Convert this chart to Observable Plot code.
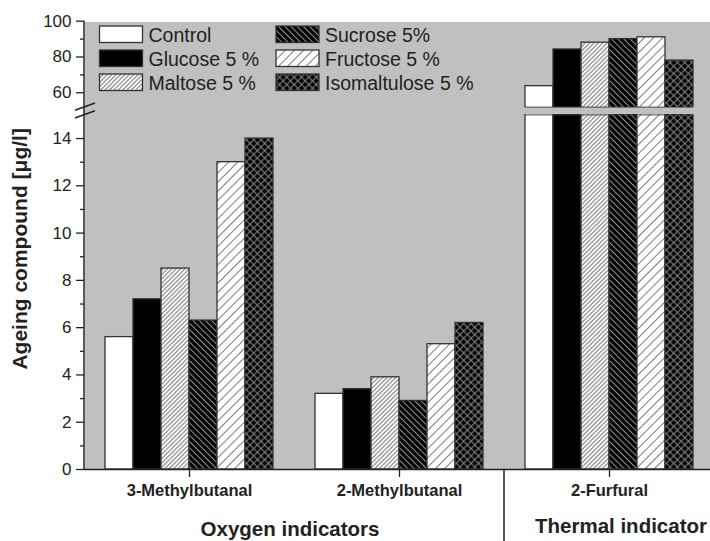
<!DOCTYPE html>
<html>
<head>
<meta charset="utf-8">
<script src="https://cdn.jsdelivr.net/npm/d3@7"></script>
<script src="https://cdn.jsdelivr.net/npm/@observablehq/plot@0.6"></script>
<style>
  html, body { margin: 0; padding: 0; background: #fff; }
  #chart svg { display: block; }
</style>
</head>
<body>
<div id="chart"></div>
<script>
// ---- data ----
const compounds = ["3-Methylbutanal", "2-Methylbutanal", "2-Furfural"];
const series = ["Control", "Glucose 5 %", "Maltose 5 %", "Sucrose 5%", "Fructose 5 %", "Isomaltulose 5 %"];
const methylbutanal3 = [5.6, 7.2, 8.5, 6.3, 13.0, 14.0];
const methylbutanal2 = [3.2, 3.4, 3.9, 2.9, 5.3, 6.2];
const furfural = [63.7, 84.2, 88.0, 90.0, 91.0, 78.0];
const groupLabels = ["Oxygen indicators", "Thermal indicator"];
const yLabel = "Ageing compound [\u03bcg/l]";
const yTicksMajor = [0, 2, 4, 6, 8, 10, 12, 14, 60, 80, 100];
const yTicksMinor = [1, 3, 5, 7, 9, 11, 13, 70, 90];
const yBreak = [15, 52];
const yTop = 100;

const valuesByCompound = [methylbutanal3, methylbutanal2, furfural];
const data = compounds.flatMap((c, i) => series.map((s, j) => ({compound: c, series: s, value: valuesByCompound[i][j]})));
const fills = ["white", "black", "url(#p-maltose)", "url(#p-sucrose)", "url(#p-fructose)", "url(#p-iso)"];

// broken-axis transform: lower segment at full scale, a small gap, compressed upper segment
const gapUnits = 0.33;      // height of the break, in lower-segment units
const upperScale = 0.0757;  // compression of the upper segment
const broken = v => v <= yBreak[0] ? v
  : v >= yBreak[1] ? yBreak[0] + gapUnits + (v - yBreak[1]) * upperScale
  : yBreak[0] + (v - yBreak[0]) / (yBreak[1] - yBreak[0]) * gapUnits;
const tickLabel = new Map(yTicksMajor.map(v => [broken(v), String(v)]));

const font = "'Liberation Sans', Arial, Helvetica, sans-serif";
const bg = "#c0c0c0";
const ink = "#222";

const chart = Plot.plot({
  width: 710,
  height: 541,
  marginTop: 21,
  marginRight: 0,
  marginBottom: 72,
  marginLeft: 84,
  style: {fontFamily: font, fontSize: "17px", color: ink, background: "white", overflow: "hidden"},
  fx: {domain: compounds, range: [84, 714], padding: 0, axis: null, label: null},
  x: {domain: series, paddingInner: 0, paddingOuter: 0.727, axis: null},
  y: {transform: broken, domain: [0, broken(yTop)], range: [469, 20.7], axis: null},
  color: {domain: series, range: fills},
  marks: [
    Plot.frame({fill: bg, shapeRendering: "crispEdges"}),
    Plot.barY(data, {fx: "compound", x: "series", y: "value", fill: "series", stroke: "#333", strokeWidth: 1.3}),
    Plot.rect([yBreak], {y1: d => d[0], y2: d => d[1], fill: bg, shapeRendering: "crispEdges"}),
    Plot.tickY(data.filter(d => d.value > yBreak[1]), {fx: "compound", x: "series", y: () => yBreak[0], stroke: "#444", strokeWidth: 1}),
    Plot.tickY(data.filter(d => d.value > yBreak[1]), {fx: "compound", x: "series", y: () => yBreak[1], stroke: "#444", strokeWidth: 1}),
    Plot.ruleY([0], {stroke: ink, strokeWidth: 1.6}),
    Plot.axisY({ticks: yTicksMajor.map(broken), tickFormat: d => tickLabel.get(d), tickSize: 8, tickPadding: 5, fontSize: 17, label: null, stroke: ink, strokeWidth: 1.3}),
    Plot.axisY({ticks: yTicksMinor.map(broken), tickSize: 4, tickFormat: () => "", label: null, stroke: ink, strokeWidth: 1.3}),
    Plot.axisFx({anchor: "bottom", tickSize: 8, tickPadding: 7, fontSize: 16.5, fontWeight: "bold", label: null, stroke: ink, strokeWidth: 1.3})
  ]
});

document.getElementById("chart").appendChild(chart);

const svg = d3.select(chart);
const fx = chart.scale("fx");
const yScale = chart.scale("y");
const yPx = v => yScale.apply(broken(v));
const x0 = fx.apply(compounds[0]);
const xSep = fx.apply(compounds[2]);

// make sure the y tick labels use the reference size
svg.selectAll("g[aria-label='y-axis tick label'] text").style("font-size", "17px");
svg.selectAll("g[aria-label='y-axis tick label']").style("font-size", "17px");

// patterns
const defs = svg.insert("defs", ":first-child");
function hatch(id, size, bgc, lineColor, angle, cross) {
  const p = defs.append("pattern").attr("id", id).attr("patternUnits", "userSpaceOnUse")
    .attr("width", size).attr("height", size).attr("patternTransform", `rotate(${angle})`);
  p.append("rect").attr("width", size).attr("height", size).attr("fill", bgc);
  p.append("line").attr("x1", size / 2).attr("y1", 0).attr("x2", size / 2).attr("y2", size)
    .attr("stroke", lineColor).attr("stroke-width", 1);
  if (cross) p.append("line").attr("x1", 0).attr("y1", size / 2).attr("x2", size).attr("y2", size / 2)
    .attr("stroke", lineColor).attr("stroke-width", 1);
}
hatch("p-maltose", 3.1, "white", "#707070", 45, false);
hatch("p-sucrose", 4.4, "black", "#9a9a9a", -45, false);
hatch("p-fructose", 6.5, "white", "#7a7a7a", 45, false);
hatch("p-iso", 5.2, "black", "#8e8e8e", 45, true);

// y axis line and break marks
const deco = svg.append("g").attr("stroke", ink).attr("stroke-width", 1.5);
deco.append("line").attr("x1", x0).attr("x2", x0).attr("y1", yPx(yTop)).attr("y2", yPx(0));
for (const v of yBreak) {
  const yc = yPx(v);
  deco.append("line").attr("x1", x0 - 9).attr("y1", yc + 3.6).attr("x2", x0 + 11).attr("y2", yc - 3.6);
}
// separator between indicator groups
deco.append("line").attr("x1", xSep).attr("x2", xSep).attr("y1", yPx(0)).attr("y2", 541);

// axis title
svg.append("text").attr("transform", `translate(27,${(yPx(0) + yPx(yTop)) / 2 + 4}) rotate(-90)`)
  .attr("text-anchor", "middle").attr("font-family", font).attr("font-size", 21).attr("font-weight", "bold")
  .attr("fill", ink).text(yLabel);

// group labels
const gl = svg.append("g").attr("font-family", font).attr("font-size", 20.5).attr("font-weight", "bold").attr("fill", ink);
gl.append("text").attr("x", (x0 + xSep) / 2 - 4).attr("y", 536).attr("text-anchor", "middle").text(groupLabels[0]);
gl.append("text").attr("x", 707).attr("y", 533).attr("text-anchor", "end").text(groupLabels[1]);

// legend
const leg = svg.append("g").attr("font-family", font).attr("font-size", 19.5).attr("fill", ink).attr("text-anchor", "start");
series.forEach((s, i) => {
  const col = Math.floor(i / 3), row = i % 3;
  const lx = col ? 276 : 99.5, ly = 26 + row * 24;
  leg.append("rect").attr("x", lx).attr("y", ly).attr("width", 43).attr("height", 16.5)
    .attr("fill", fills[i]).attr("stroke", "#333").attr("stroke-width", 1.3);
  leg.append("text").attr("x", lx + 49).attr("y", ly + 15.5).text(s);
});
</script>
</body>
</html>
